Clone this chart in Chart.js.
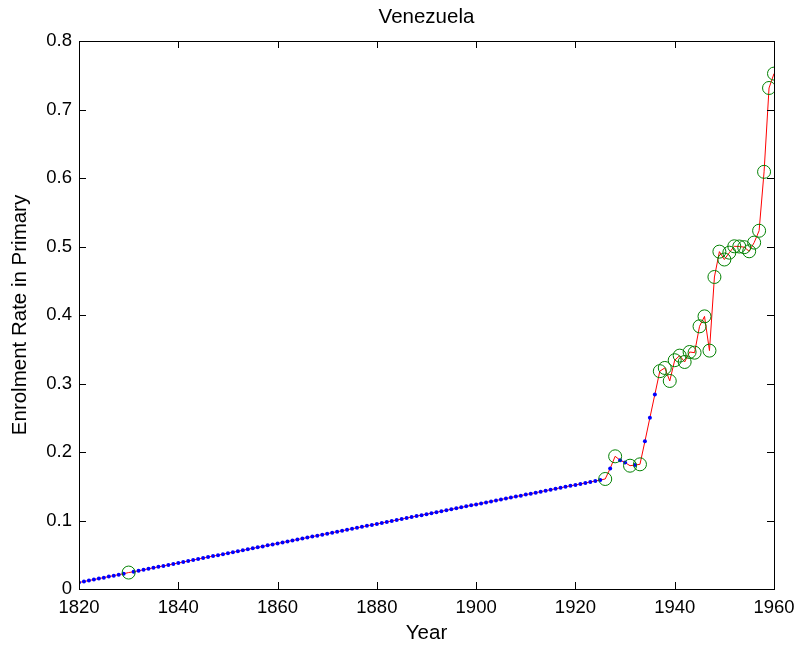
<!DOCTYPE html>
<html>
<head>
<meta charset="utf-8">
<script src="https://cdn.jsdelivr.net/npm/chart.js@4"></script>
<style>
  html, body { margin: 0; padding: 0; background: #fff; }
  #wrap { width: 804px; height: 649px; }
</style>
</head>
<body>
<div id="wrap"><canvas id="chart" width="804" height="649"></canvas></div>
<script>
// observations (green circles)
const obsYears = [1830, 1926, 1928, 1931, 1933, 1937, 1938, 1939, 1940, 1941, 1942, 1943, 1944, 1945, 1946, 1947,
  1948, 1949, 1950, 1951, 1952, 1953, 1954, 1955, 1956, 1957, 1958, 1959, 1960];
const obsValues = [0.024, 0.1606, 0.1937, 0.180, 0.182, 0.318, 0.3227, 0.3037, 0.334, 0.3407, 0.3314, 0.346, 0.345, 0.3835, 0.398, 0.348,
  0.4555, 0.4925, 0.481, 0.491, 0.5003, 0.500, 0.499, 0.493, 0.5057, 0.523, 0.609, 0.7314, 0.7524];

// filled-in years (blue dots), 1820-1925 except 1830, then the gaps after 1926
const fillYears = [1820, 1821, 1822, 1823, 1824, 1825, 1826, 1827, 1828, 1829,
  1831, 1832, 1833, 1834, 1835, 1836, 1837, 1838, 1839, 1840,
  1841, 1842, 1843, 1844, 1845, 1846, 1847, 1848, 1849, 1850,
  1851, 1852, 1853, 1854, 1855, 1856, 1857, 1858, 1859, 1860,
  1861, 1862, 1863, 1864, 1865, 1866, 1867, 1868, 1869, 1870,
  1871, 1872, 1873, 1874, 1875, 1876, 1877, 1878, 1879, 1880,
  1881, 1882, 1883, 1884, 1885, 1886, 1887, 1888, 1889, 1890,
  1891, 1892, 1893, 1894, 1895, 1896, 1897, 1898, 1899, 1900,
  1901, 1902, 1903, 1904, 1905, 1906, 1907, 1908, 1909, 1910,
  1911, 1912, 1913, 1914, 1915, 1916, 1917, 1918, 1919, 1920,
  1921, 1922, 1923, 1924, 1925,
  1927, 1929, 1930, 1932, 1934, 1935, 1936];
const fillValues = [0.0095, 0.0109, 0.0124, 0.0138, 0.0152, 0.0166, 0.0181, 0.0195, 0.0209, 0.0223,
  0.0252, 0.0266, 0.0280, 0.0295, 0.0309, 0.0323, 0.0337, 0.0352, 0.0366, 0.0380,
  0.0394, 0.0409, 0.0423, 0.0437, 0.0451, 0.0466, 0.0480, 0.0494, 0.0508, 0.0523,
  0.0537, 0.0551, 0.0565, 0.0580, 0.0594, 0.0608, 0.0622, 0.0637, 0.0651, 0.0665,
  0.0679, 0.0694, 0.0708, 0.0722, 0.0736, 0.0751, 0.0765, 0.0779, 0.0793, 0.0808,
  0.0822, 0.0836, 0.0850, 0.0865, 0.0879, 0.0893, 0.0907, 0.0922, 0.0936, 0.0950,
  0.0964, 0.0979, 0.0993, 0.1007, 0.1021, 0.1036, 0.1050, 0.1064, 0.1078, 0.1093,
  0.1107, 0.1121, 0.1135, 0.1150, 0.1164, 0.1178, 0.1192, 0.1207, 0.1221, 0.1235,
  0.1249, 0.1264, 0.1278, 0.1292, 0.1306, 0.1321, 0.1335, 0.1349, 0.1363, 0.1378,
  0.1392, 0.1406, 0.1420, 0.1435, 0.1449, 0.1463, 0.1477, 0.1492, 0.1506, 0.1520,
  0.1534, 0.1549, 0.1563, 0.1577, 0.1591,
  0.176, 0.188, 0.1845, 0.181, 0.2156, 0.250, 0.284];

const xTicks = [1820, 1840, 1860, 1880, 1900, 1920, 1940, 1960];
const yTicks = [0, 0.1, 0.2, 0.3, 0.4, 0.5, 0.6, 0.7, 0.8];

const FONT = 'Liberation Sans, Arial, Helvetica, sans-serif';

const toPts = (xs, ys) => xs.map((x, i) => ({ x: x, y: ys[i] }));
const obsPts = toPts(obsYears, obsValues);
const fillPts = toPts(fillYears, fillValues);
const linePts = obsPts.concat(fillPts).sort((a, b) => a.x - b.x);

// box round the axes and inward ticks on all four sides
const boxPlugin = {
  id: 'box',
  afterDraw(chart) {
    const { ctx, chartArea: a, scales } = chart;
    const len = 7;
    ctx.save();
    ctx.strokeStyle = '#000';
    ctx.lineWidth = 1;
    ctx.beginPath();
    xTicks.forEach(v => {
      const px = Math.round(scales.x.getPixelForValue(v)) + 0.5;
      ctx.moveTo(px, a.bottom); ctx.lineTo(px, a.bottom - len);
      ctx.moveTo(px, a.top); ctx.lineTo(px, a.top + len);
    });
    yTicks.forEach(v => {
      const py = Math.round(scales.y.getPixelForValue(v)) + 0.5;
      ctx.moveTo(a.left, py); ctx.lineTo(a.left + len, py);
      ctx.moveTo(a.right, py); ctx.lineTo(a.right - len, py);
    });
    ctx.stroke();
    ctx.strokeRect(Math.round(a.left) + 0.5, Math.round(a.top) + 0.5,
      Math.round(a.right - a.left), Math.round(a.bottom - a.top));
    ctx.restore();
  }
};

new Chart(document.getElementById('chart'), {
  type: 'scatter',
  data: {
    datasets: [
      {
        data: obsPts,
        showLine: false,
        pointRadius: 6.5,
        pointBorderWidth: 1,
        pointBorderColor: '#008000',
        pointBackgroundColor: 'rgba(0,0,0,0)',
        order: 0
      },
      {
        data: fillPts,
        showLine: false,
        pointRadius: 2,
        pointBorderWidth: 0,
        pointBackgroundColor: '#0000ff',
        order: 1
      },
      {
        data: linePts,
        showLine: true,
        borderColor: '#ff0000',
        borderWidth: 1,
        pointRadius: 0,
        order: 2
      }
    ]
  },
  options: {
    responsive: false,
    animation: false,
    layout: { padding: { top: 0, right: 30, left: 0, bottom: 0 } },
    plugins: {
      legend: { display: false },
      tooltip: { enabled: false },
      title: {
        display: true,
        text: 'Venezuela',
        fullSize: false,
        color: '#000',
        font: { family: FONT, size: 20.5, weight: 'normal', lineHeight: 1.2 },
        padding: { top: 5, bottom: 11.4 }
      }
    },
    scales: {
      x: {
        type: 'linear',
        min: 1820,
        max: 1960,
        afterFit(s) { s.height = 60; },
        afterBuildTicks(s) { s.ticks = xTicks.map(v => ({ value: v })); },
        grid: { display: false, drawTicks: false },
        border: { display: false },
        ticks: { color: '#000', padding: 8, maxRotation: 0, font: { family: FONT, size: 18.5 }, callback: v => String(v) },
        title: { display: true, text: 'Year', color: '#000', font: { family: FONT, size: 20.5 }, padding: { top: 0, bottom: 3 } }
      },
      y: {
        type: 'linear',
        min: 0,
        max: 0.8,
        afterFit(s) { s.width = 79; },
        afterBuildTicks(s) { s.ticks = yTicks.map(v => ({ value: v })); },
        grid: { display: false, drawTicks: false },
        border: { display: false },
        ticks: { color: '#000', padding: 7, font: { family: FONT, size: 18.5 }, callback: v => String(v) },
        title: { display: true, text: 'Enrolment Rate in Primary', color: '#000', font: { family: FONT, size: 20.5 }, padding: { top: 8, bottom: 0 } }
      }
    }
  },
  plugins: [boxPlugin]
});
</script>
</body>
</html>
